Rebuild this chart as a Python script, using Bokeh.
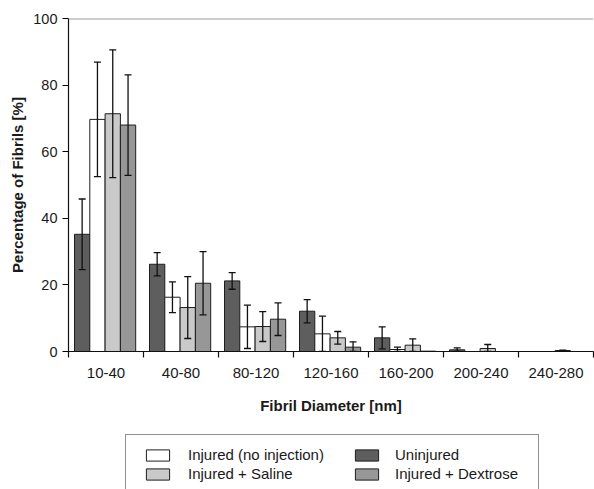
from bokeh.plotting import figure
from bokeh.layouts import column
from bokeh.models import (ColumnDataSource, Range1d, FixedTicker, Whisker, TeeHead,
                          Legend, LegendItem, Span)
from bokeh.embed import file_html
from bokeh.resources import INLINE

categories = ["10-40", "40-80", "80-120", "120-160", "160-200", "200-240", "240-280"]
series_names = ["Uninjured", "Injured (no injection)", "Injured + Saline", "Injured + Dextrose"]

uninjured = [35.2, 26.2, 21.2, 12.1, 4.1, 0.5, 0.0]
uninjured_sd = [10.6, 3.5, 2.5, 3.5, 3.3, 0.6, 0.0]
injured = [69.7, 16.3, 7.4, 5.3, 0.6, 0.0, 0.0]
injured_sd = [17.2, 4.6, 6.5, 5.3, 0.7, 0.0, 0.0]
saline = [71.4, 13.2, 7.5, 4.1, 1.9, 0.9, 0.3]
saline_sd = [19.2, 9.3, 4.5, 1.9, 1.9, 1.2, 0.1]
dextrose = [68.0, 20.5, 9.7, 1.3, 0.1, 0.0, 0.0]
dextrose_sd = [15.1, 9.5, 4.9, 1.6, 0.0, 0.0, 0.0]

y_ticks = [0, 20, 40, 60, 80, 100]

values = [uninjured, injured, saline, dextrose]
errors = [uninjured_sd, injured_sd, saline_sd, dextrose_sd]
colors = ["#5e5e5e", "#ffffff", "#c9c9c9", "#979797"]

FONT = "Liberation Sans"
BAR_W = 0.204
GROUP_START = 0.08

p = figure(width=594, height=433, min_border_left=68, min_border_right=1,
           min_border_top=18, min_border_bottom=82,
           x_range=Range1d(0, len(categories)), y_range=Range1d(0, 100),
           output_backend="svg", toolbar_location=None)
p.outline_line_color = None
p.xgrid.visible = False
p.ygrid.visible = False

sources = []
for j, (vals, errs) in enumerate(zip(values, errors)):
    xs = [i + GROUP_START + BAR_W * (j + 0.5) for i in range(len(categories))]
    src = ColumnDataSource(dict(x=xs, top=vals))
    sources.append(src)
    p.vbar(x="x", top="top", width=BAR_W, bottom=0, source=src,
           fill_color=colors[j], line_color="#1e1e1e", line_width=1)
    ex, lo, hi = [], [], []
    for x, v, e in zip(xs, vals, errs):
        if e > 0:
            ex.append(x)
            lo.append(max(v - e, 0))
            hi.append(v + e)
    esrc = ColumnDataSource(dict(x=ex, lower=lo, upper=hi))
    w = Whisker(base="x", lower="lower", upper="upper", source=esrc,
                line_color="#111111", line_width=1.3, level="annotation",
                upper_head=TeeHead(size=7, line_color="#111111", line_width=1.3),
                lower_head=TeeHead(size=7, line_color="#111111", line_width=1.3))
    p.add_layout(w)

p.add_layout(Span(location=100, dimension="width", line_color="#9c9c9c", line_width=2))

# axes
p.yaxis.ticker = FixedTicker(ticks=y_ticks, minor_ticks=[])
p.yaxis.major_tick_out = 6
p.yaxis.major_tick_in = 0
p.yaxis.minor_tick_out = 0
p.yaxis.axis_line_color = "#111111"
p.yaxis.axis_line_width = 1.2
p.yaxis.major_tick_line_width = 1.2
p.yaxis.major_label_text_font = FONT
p.yaxis.major_label_text_font_size = "14.5px"
p.yaxis.major_label_text_color = "#1a1a1a"
p.yaxis.major_label_standoff = 5
p.yaxis.axis_label = "Percentage of Fibrils [%]"
p.yaxis.axis_label_text_font = FONT
p.yaxis.axis_label_text_font_size = "15px"
p.yaxis.axis_label_text_font_style = "bold"
p.yaxis.axis_label_text_color = "#1a1a1a"
p.yaxis.axis_label_standoff = 4

p.xaxis.ticker = FixedTicker(ticks=[i + 0.5 for i in range(len(categories))],
                             minor_ticks=list(range(len(categories) + 1)))
p.xaxis.major_label_overrides = {i + 0.5: c for i, c in enumerate(categories)}
p.xaxis.major_tick_out = 0
p.xaxis.major_tick_in = 0
p.xaxis.minor_tick_out = 6
p.xaxis.minor_tick_in = 0
p.xaxis.minor_tick_line_color = "#111111"
p.xaxis.minor_tick_line_width = 1.2
p.xaxis.axis_line_color = "#111111"
p.xaxis.axis_line_width = 1.2
p.xaxis.major_label_text_font = FONT
p.xaxis.major_label_text_font_size = "15px"
p.xaxis.major_label_text_color = "#1a1a1a"
p.xaxis.major_label_standoff = 10
p.xaxis.axis_label = "Fibril Diameter [nm]"
p.xaxis.axis_label_text_font = FONT
p.xaxis.axis_label_text_font_size = "15px"
p.xaxis.axis_label_text_font_style = "bold"
p.xaxis.axis_label_text_color = "#1a1a1a"
p.xaxis.axis_label_standoff = 16

# legend panel below the chart (q's bars lie below its visible y range; only swatches show)
q = figure(width=594, height=56, min_border=0, x_range=Range1d(0, len(categories)),
           y_range=Range1d(1000, 1001),
           x_axis_location=None, y_axis_location=None,
           output_backend="svg", toolbar_location=None)
q.grid.visible = False
q.outline_line_color = None
lr = []
for j in range(4):
    lr.append(q.vbar(x="x", top="top", width=BAR_W, source=sources[j], fill_color=colors[j],
                     line_color="#1e1e1e", line_width=1))
ghost = q.vbar(x="x", top="top", width=BAR_W, source=sources[0], fill_alpha=0, line_alpha=0)

common = dict(orientation="vertical", spacing=0, glyph_width=29, glyph_height=14,
              label_height=19, label_text_font=FONT, label_text_font_size="15px",
              label_text_color="#1a1a1a", margin=0)

# frame box of the legend
legBox = Legend(items=[LegendItem(label=" ", renderers=[ghost]),
                       LegendItem(label=" ", renderers=[ghost])],
                location=(57, -7), padding=11, label_standoff=0, label_width=361,
                border_line_color="#222222", border_line_width=1,
                background_fill_color="white", background_fill_alpha=1, **common)
legA = Legend(items=[LegendItem(label=series_names[1], renderers=[lr[1]]),
                     LegendItem(label=series_names[2], renderers=[lr[2]])],
              location=(75, 6), padding=0, label_standoff=16,
              border_line_color=None, background_fill_alpha=0, **common)
legB = Legend(items=[LegendItem(label=series_names[0], renderers=[lr[0]]),
                     LegendItem(label=series_names[3], renderers=[lr[3]])],
              location=(284, 6), padding=0, label_standoff=14,
              border_line_color=None, background_fill_alpha=0, **common)
q.add_layout(legBox)
q.add_layout(legA)
q.add_layout(legB)

layout = column(p, q, spacing=0)
open("out.html", "w").write(file_html(layout, INLINE))
